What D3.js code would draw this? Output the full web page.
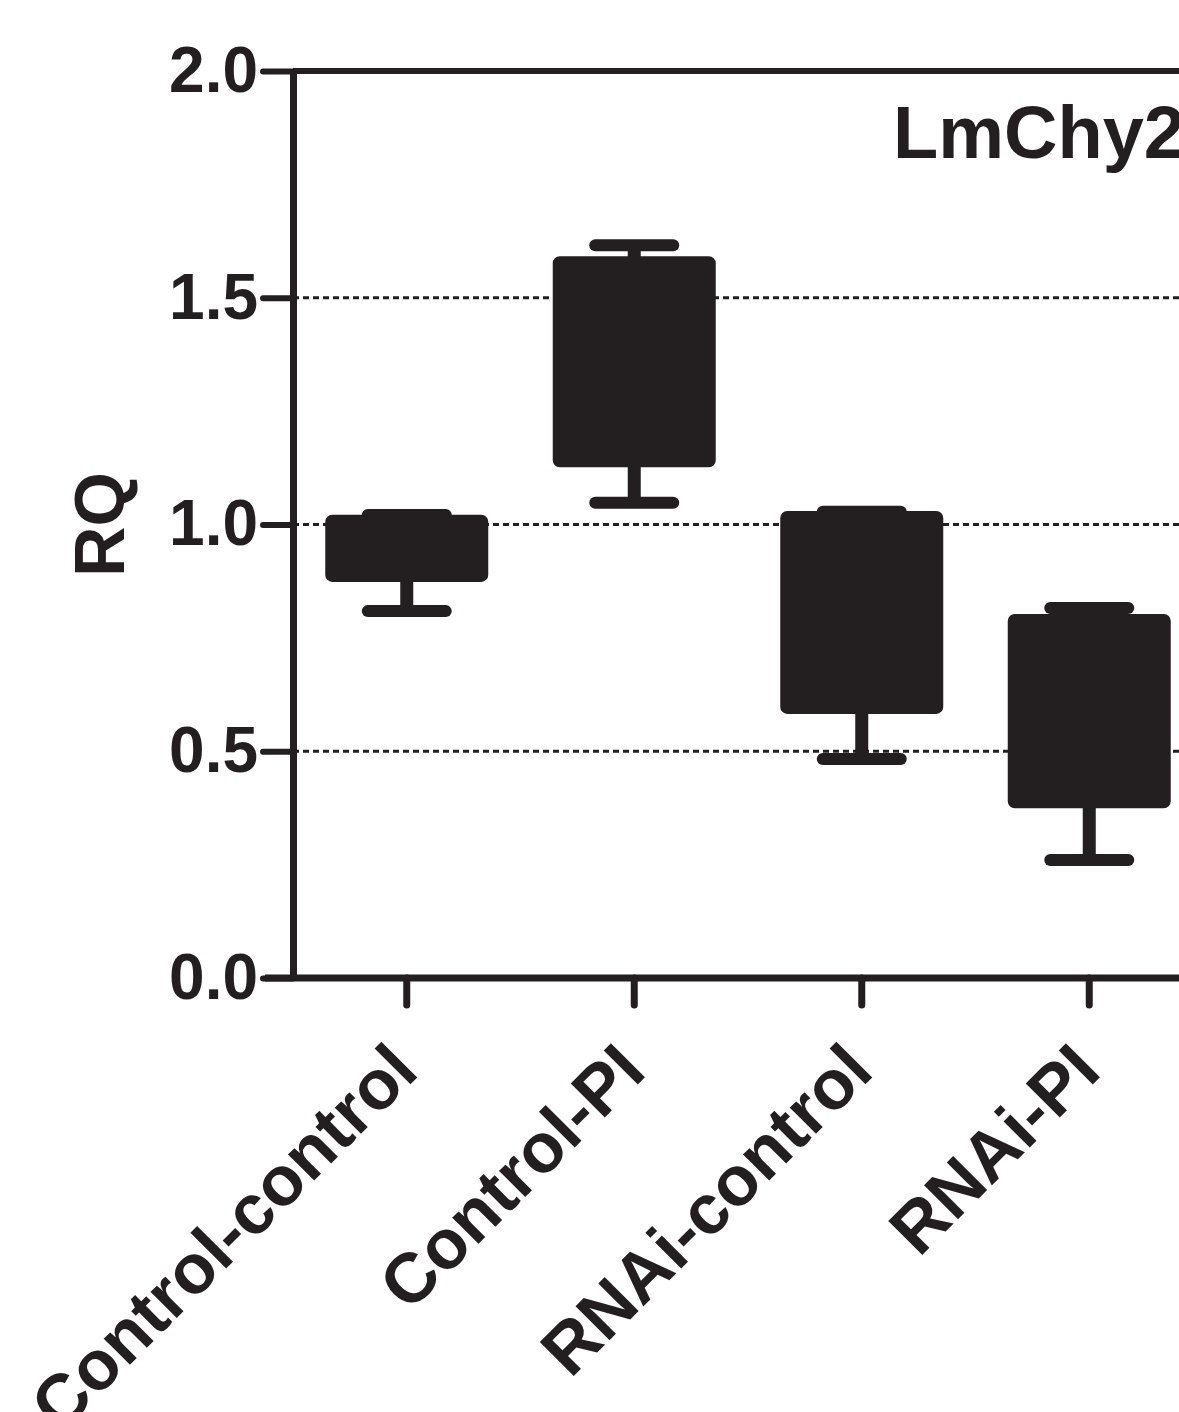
<!DOCTYPE html>
<html lang="en">
<head>
<meta charset="utf-8">
<script src="https://d3js.org/d3.v7.min.js"></script>
<style>
  body { margin: 0; background: #fff; }
  svg text { font-family: "Liberation Sans", Arial, sans-serif; font-weight: bold; fill: #231f20; }
</style>
</head>
<body>
<div id="chart"></div>
<script>
// data
const groups = ["Control-control", "Control-PI", "RNAi-control", "RNAi-PI"];
const mins = [0.809, 1.048, 0.483, 0.260];
const q1s  = [0.880, 1.133, 0.589, 0.381];
const q3s  = [1.015, 1.585, 1.023, 0.796];
const maxs = [1.021, 1.616, 1.028, 0.816];
const yTicks = [0, 0.5, 1.0, 1.5, 2.0];
const gridValues = [0.5, 1.0, 1.5];
const title = "LmChy2";

const W = 1179, H = 1412;
const ink = "#231f20";
const plotLeft = 293, plotTop = 71, plotBottom = 978;

const svg = d3.select("#chart").append("svg")
  .attr("width", W)
  .attr("height", H);

const y = d3.scaleLinear().domain([0, 2]).range([plotBottom, plotTop]);
const x = d3.scaleBand().domain(groups).range([plotLeft, plotLeft + 910]).padding(0);

const data = groups.map((g, i) => ({ g, min: mins[i], q1: q1s[i], q3: q3s[i], max: maxs[i] }));

// dotted grid
svg.append("g").selectAll("line")
  .data(gridValues)
  .enter().append("line")
  .attr("x1", plotLeft).attr("x2", W)
  .attr("y1", d => y(d)).attr("y2", d => y(d))
  .attr("stroke", ink)
  .attr("stroke-width", 3)
  .attr("stroke-dasharray", "6 4");

// top frame
svg.append("line")
  .attr("x1", plotLeft).attr("x2", W)
  .attr("y1", y(2)).attr("y2", y(2))
  .attr("stroke", ink).attr("stroke-width", 6);

// boxes
const bw = x.bandwidth();
const boxW = 157, capW = 78;
const box = svg.append("g").selectAll("g")
  .data(data)
  .enter().append("g")
  .attr("transform", d => `translate(${x(d.g) + bw / 2},0)`);

box.append("line")
  .attr("x1", 0).attr("x2", 0)
  .attr("y1", d => y(d.min)).attr("y2", d => y(d.max))
  .attr("stroke", ink).attr("stroke-width", 13);

box.selectAll(".cap")
  .data(d => [d.min, d.max])
  .enter().append("line")
  .attr("class", "cap")
  .attr("x1", -capW / 2).attr("x2", capW / 2)
  .attr("y1", d => y(d)).attr("y2", d => y(d))
  .attr("stroke", ink).attr("stroke-width", 12)
  .attr("stroke-linecap", "round");

box.append("rect")
  .attr("x", -boxW / 2)
  .attr("width", boxW)
  .attr("y", d => y(d.q3))
  .attr("height", d => y(d.q1) - y(d.q3))
  .attr("fill", ink)
  .attr("stroke", ink)
  .attr("stroke-width", 6)
  .attr("rx", 4);

// y axis
const yAxis = svg.append("g")
  .attr("transform", `translate(${plotLeft},0)`)
  .call(d3.axisLeft(y).tickValues(yTicks).tickFormat(d3.format(".1f")).tickSize(30).tickPadding(5).tickSizeOuter(0));
yAxis.select(".domain").attr("stroke", ink).attr("stroke-width", 7);
yAxis.selectAll(".tick line").attr("stroke", ink).attr("stroke-width", 6).attr("stroke-linecap", "round");
yAxis.selectAll(".tick text").attr("font-size", 64).attr("fill", ink);

// x axis
const xAxis = svg.append("g")
  .attr("transform", `translate(0,${plotBottom})`)
  .call(d3.axisBottom(x).tickSize(27).tickSizeOuter(0));
xAxis.select(".domain").attr("stroke", ink).attr("stroke-width", 7)
  .attr("d", `M${plotLeft - 28},0H${W}`);
xAxis.selectAll(".tick line").attr("stroke", ink).attr("stroke-width", 7).attr("stroke-linecap", "round");
xAxis.selectAll(".tick text")
  .attr("font-size", 70)
  .attr("fill", ink)
  .attr("text-anchor", "end")
  .attr("y", 0).attr("dy", 0)
  .attr("transform", "translate(14,96) rotate(-45)");

// y title
svg.append("text")
  .attr("transform", `translate(124,${(plotTop + plotBottom) / 2}) rotate(-90)`)
  .attr("text-anchor", "middle")
  .attr("font-size", 70)
  .text("RQ");

// panel title
svg.append("text")
  .attr("x", 893).attr("y", 158)
  .attr("font-size", 74)
  .text(title);
</script>
</body>
</html>
